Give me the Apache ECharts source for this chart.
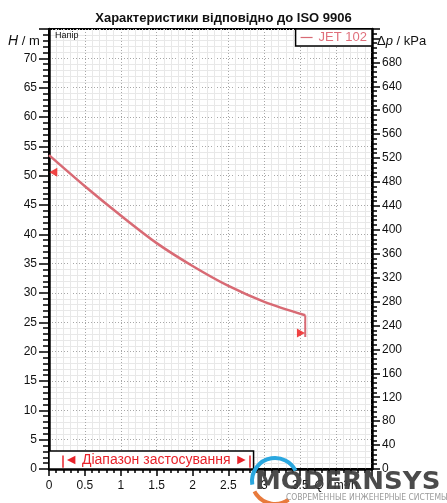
<!DOCTYPE html>
<html><head><meta charset="utf-8">
<script src="https://cdn.jsdelivr.net/npm/echarts@6/dist/echarts.min.js"></script>
<style>html,body{margin:0;padding:0;background:#fff}#c{width:447px;height:503px}</style>
</head><body><div id="c"></div>
<script>
// ---- data ----
var flowQ = [0, 0.5, 1.0, 1.5, 2.0, 2.5, 3.0, 3.57];
var headH = [53.5, 48.2, 43.2, 38.5, 34.6, 31.2, 28.5, 26.2];
var dropQ = [3.57, 3.57];
var dropH = [26.2, 22.5];
var markerLeft = [0.06, 50.6];
var markerRight = [3.51, 23.2];
var rangeQ = [0.19, 2.79];
var rangeBoxQ = [0, 2.85];
var rangeBoxH = [0, 3.07];
var xTickLabels = ['0', '0.5', '1', '1.5', '2', '2.5', '3', '3.5'];
var seriesName = 'JET 102';
var titleText = 'Характеристики відповідно до ISO 9906';
var rangeText = 'Діапазон застосування';
var kPaPerM = 9.81;
var hMax = 75;

var FONT = '"Liberation Sans", Arial, sans-serif';
var curve = flowQ.map(function (q, i) { return [q, headH[i]]; });
var drop = dropQ.map(function (q, i) { return [q, dropH[i]]; });

var chart = echarts.init(document.getElementById('c'), null, {renderer: 'canvas'});
chart.setOption({
  backgroundColor: '#fff',
  animation: false,
  title: {
    text: titleText, left: 'center', top: 7,
    textStyle: {fontFamily: FONT, fontSize: 13, fontWeight: 'bold', color: '#111'}
  },
  legend: {
    data: [{name: seriesName, icon: 'path://M0,0H10V1H0Z'}],
    right: 75, top: 29, itemWidth: 12, itemHeight: 1.5, itemGap: 4,
    padding: [2, 5, 2, 5], borderColor: '#000', borderWidth: 1.5, borderRadius: 0,
    backgroundColor: '#fff', selectedMode: false,
    textStyle: {fontFamily: FONT, fontSize: 13, color: '#e0707c', padding: [0, 0, 0, 1]}
  },
  grid: {left: 49, right: 75, top: 29, bottom: 34, show: true, borderColor: '#000', borderWidth: 2, backgroundColor: '#fff'},
  xAxis: {
    type: 'value', min: 0, max: 4.5, interval: 0.5,
    axisLine: {show: true, onZero: false, lineStyle: {color: '#000', width: 2.5}},
    axisTick: {show: true, length: 7, lineStyle: {color: '#000', width: 1.5}},
    minorTick: {show: true, splitNumber: 5, length: 4, lineStyle: {color: '#000', width: 1.5}},
    splitLine: {show: true, lineStyle: {color: '#a8a8a8', width: 1, type: [1, 2]}},
    minorSplitLine: {show: true, lineStyle: {color: '#e8e8e8', width: 1}},
    axisLabel: {
      margin: 11, fontFamily: FONT, fontSize: 12, color: '#111',
      showMaxLabel: true,
      formatter: function (v) {
        var i = Math.round(v * 2);
        if (i < xTickLabels.length) return xTickLabels[i];
        if (i === 8) return '{i|Q} / m³/h';
        return '';
      },
      rich: {i: {fontStyle: 'italic', fontFamily: FONT, fontSize: 12, color: '#111'}}
    }
  },
  yAxis: [{
    type: 'value', min: 0, max: hMax, interval: 5, position: 'left',
    axisLine: {show: true, onZero: false, lineStyle: {color: '#000', width: 2.5}},
    axisTick: {show: true, length: 10, lineStyle: {color: '#000', width: 1.5}},
    minorTick: {show: true, splitNumber: 5, length: 6, lineStyle: {color: '#000', width: 1.5}},
    splitLine: {show: true, lineStyle: {color: '#a8a8a8', width: 1, type: [1, 2]}},
    minorSplitLine: {show: true, lineStyle: {color: '#e8e8e8', width: 1}},
    axisLabel: {margin: 12, fontFamily: FONT, fontSize: 12, color: '#111', showMaxLabel: false}
  }, {
    type: 'value', min: 0, max: hMax * kPaPerM, interval: 40, position: 'right',
    axisLine: {show: true, onZero: false, lineStyle: {color: '#000', width: 2.5}},
    axisTick: {show: true, length: 8, lineStyle: {color: '#000', width: 1.5}},
    minorTick: {show: true, splitNumber: 5, length: 5, lineStyle: {color: '#000', width: 1.5}},
    splitLine: {show: false}, minorSplitLine: {show: false},
    axisLabel: {margin: 10, fontFamily: FONT, fontSize: 12, color: '#111', showMaxLabel: false,
      formatter: function (v) { return v > 700 ? '' : String(v); }}
  }],
  series: [{
    name: seriesName, type: 'line', data: curve, smooth: 0.3, symbol: 'none',
    lineStyle: {color: '#d86a74', width: 2.5}, itemStyle: {color: '#d86a74'}, z: 5,
    markArea: {
      silent: true,
      itemStyle: {color: '#fff', borderColor: '#000', borderWidth: 1.5},
      label: {
        show: true, position: 'inside', offset: [5, 0],
        formatter: '◄ ' + rangeText + ' ►',
        fontFamily: FONT, fontSize: 14, color: '#e8232b'
      },
      data: [[{coord: [rangeBoxQ[0], rangeBoxH[0]]}, {coord: [rangeBoxQ[1], rangeBoxH[1]]}]]
    },
    markLine: {
      silent: true, symbol: 'none', label: {show: false},
      lineStyle: {color: '#e8232b', width: 1.5, type: 'solid'},
      data: [
        [{coord: [rangeQ[0], 0.2]}, {coord: [rangeQ[0], 2.3]}],
        [{coord: [rangeQ[1], 0.2]}, {coord: [rangeQ[1], 2.3]}]
      ]
    }
  }, {
    name: seriesName, type: 'line', data: drop, symbol: 'none',
    lineStyle: {color: '#d86a74', width: 2}, z: 5
  }, {
    name: 'markers', type: 'scatter', symbol: 'triangle', symbolSize: [9, 8],
    itemStyle: {color: '#ee1515'}, z: 6,
    data: [{value: markerLeft, symbolRotate: 90}, {value: markerRight, symbolRotate: -90}]
  }],
  graphic: [
    {type: 'text', left: 8, top: 34, z: 100, style: {text: '{i|H} / m', rich: {i: {fontStyle: 'italic', fontSize: 14, fontFamily: FONT, fill: '#111'}}, font: '13px ' + FONT, fill: '#111'}},
    {type: 'text', left: 377, top: 35, z: 100, style: {text: 'Δ{i|p} / kPa', rich: {i: {fontStyle: 'italic', fontSize: 13, fontFamily: FONT, fill: '#111'}}, font: '13px ' + FONT, fill: '#111'}},
    {type: 'text', left: 55, top: 31, z: 100, style: {text: 'Напір', font: '9px ' + FONT, fill: '#111'}},
    {type: 'arc', shape: {cx: 275, cy: 481, r: 23, startAngle: Math.PI * 0.95, endAngle: Math.PI * 1.85}, style: {stroke: '#2aa7df', lineWidth: 4, fill: null}, z: 100},
    {type: 'arc', shape: {cx: 275, cy: 481, r: 23, startAngle: Math.PI * 0.3, endAngle: Math.PI * 0.85}, style: {stroke: '#e87a3c', lineWidth: 4, fill: null}, z: 100},
    {type: 'text', x: 255, y: 470, scaleX: 1.04, style: {text: 'MODERNSYS', font: 'bold 25px "DejaVu Sans", sans-serif', fill: '#3c3c3c', opacity: 0.92}, z: 101},
    {type: 'text', x: 286, y: 493, scaleX: 0.85, style: {text: 'СОВРЕМЕННЫЕ ИНЖЕНЕРНЫЕ СИСТЕМЫ', font: '9px "DejaVu Sans", sans-serif', fill: '#9a9a9a'}, z: 101}
  ]
});
</script></body></html>
